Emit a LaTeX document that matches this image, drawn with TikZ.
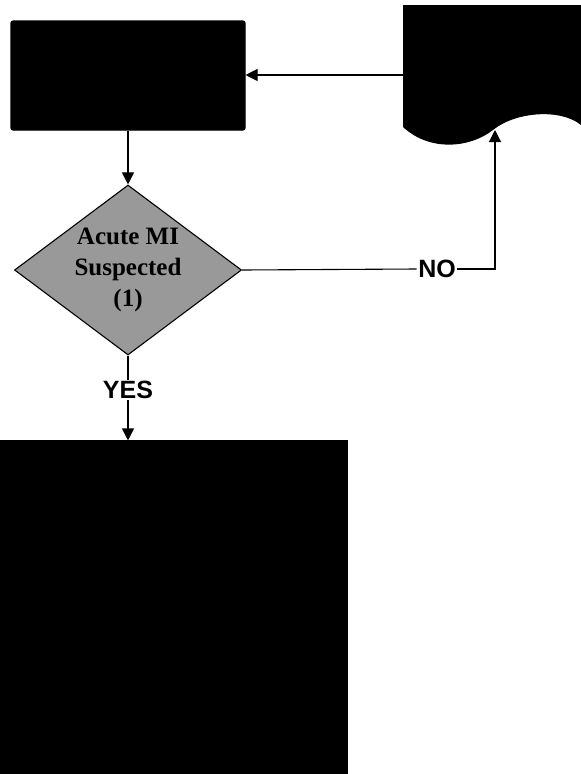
\documentclass[tikz,border=0pt]{standalone}
\usepackage{fontspec}
\usetikzlibrary{shapes.geometric,arrows.meta}
\newfontfamily\labelfont{Liberation Sans}
\newfontfamily\boxfont{Liberation Serif}

\begin{document}
\begin{tikzpicture}[
    x=1pt, y=-1pt,
    >={Triangle[width=12pt,length=12pt]},
    line width=1.1pt,
    blackbox/.style={fill=black, draw=black, inner sep=0pt},
    decision/.style={diamond, draw=black, fill=black!40, inner sep=0pt, aspect=1.34,
        minimum width=227pt, minimum height=170pt, align=center,
        font=\boxfont\bfseries\fontsize{25}{31}\selectfont},
    answer/.style={font=\labelfont\bfseries\fontsize{25}{28}\selectfont, inner sep=1pt}
]

    \useasboundingbox (0,0) rectangle (581,774);

    % Boxes
    \node[blackbox, rounded corners=2pt, minimum width=234pt, minimum height=109pt]
        (start) at (128,75.5) {};
    \node[decision] (mi) at (128,270) {Acute MI\\Suspected\\(1)};
    \node[answer] (yes) at (128,390) {YES};
    \node[blackbox, minimum width=347pt, minimum height=333pt] (care) at (173.5,607.5) {};
    \node[answer, fill=white] (no) at (437,269) {NO};

    % Document (wavy bottom)
    \coordinate (docA) at (403,5);
    \coordinate (docB) at (581,5);
    \coordinate (docC) at (581,125);
    \coordinate (docD) at (493,130);
    \coordinate (docE) at (403,127);
    \fill (docA) -- (docB) -- (docC)
        .. controls (560,108) and (515,112) .. (docD)
        .. controls (470,148) and (430,152) .. (docE) -- cycle;
    \coordinate (docin) at (403,75);
    \coordinate (turn) at (495,269);
    \coordinate (docbot) at (495,130);

    % Connectors
    \draw[->] (start) -- (mi);
    \draw (mi.south) -- (yes.north);
    \draw[->] (yes.south) -- (yes |- care.north);
    \draw (mi.east) -- (no.west);
    \draw[->] (no.east) -- (turn) -- (docbot);
    \draw[->] (docin) -- (start.east |- docin);

\end{tikzpicture}
\end{document}
